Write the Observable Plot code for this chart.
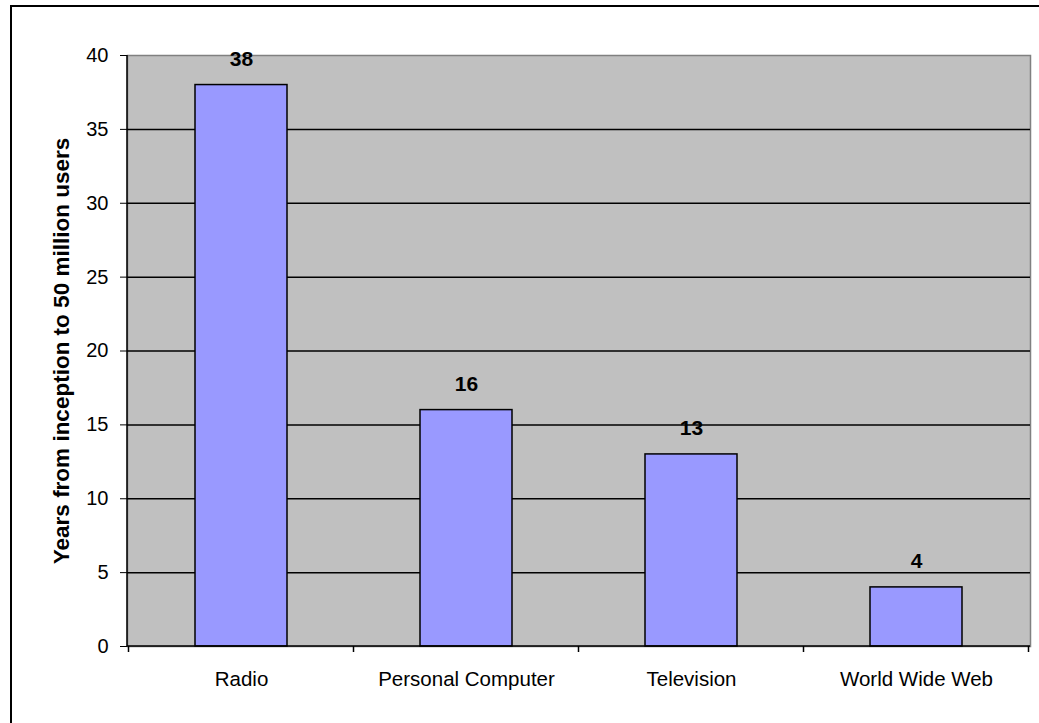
<!DOCTYPE html>
<html>
<head>
<meta charset="utf-8">
<script src="https://cdn.jsdelivr.net/npm/d3@7"></script>
<script src="https://cdn.jsdelivr.net/npm/@observablehq/plot@0.6"></script>
<style>
  html, body { margin: 0; padding: 0; background: #fff; }
  #chart svg { display: block; }
</style>
</head>
<body>
<div id="chart"></div>
<script>
// Years each technology needed to reach 50 million users
const categories = ["Radio", "Personal Computer", "Television", "World Wide Web"];
const years = [38, 16, 13, 4];
const yTicks = [0, 5, 10, 15, 20, 25, 30, 35, 40];
const yLabel = "Years from inception to 50 million users";

const data = categories.map((c, i) => ({technology: c, years: years[i]}));
const gridValues = yTicks.filter((v) => v > 0 && v < 40);

const FONT = "'Liberation Sans', Arial, Helvetica, sans-serif";

// Thin black border framing the whole chart (continues past the right/bottom edge)
function outerBorder(index, scales, values, dims) {
  return d3.create("svg:rect")
    .attr("x", 11).attr("y", 6)
    .attr("width", dims.width + 40).attr("height", dims.height + 40)
    .attr("fill", "none").attr("stroke", "#000").attr("stroke-width", 2)
    .node();
}

// Black axis lines plus category-boundary ticks under the x axis
function axisLines(index, scales, values, dims) {
  const g = d3.create("svg:g").attr("stroke", "#000").attr("stroke-width", 1.5);
  const x = scales.x;
  const left = dims.marginLeft, right = dims.width - dims.marginRight;
  const top = dims.marginTop, bottom = dims.height - dims.marginBottom;
  g.append("line").attr("x1", left).attr("x2", left).attr("y1", top).attr("y2", bottom);
  g.append("line").attr("x1", left).attr("x2", right).attr("y1", bottom).attr("y2", bottom);
  const gap = (x.step() - x.bandwidth()) / 2;
  const bounds = categories.map((c) => x(c) - gap).concat([x(categories[categories.length - 1]) + x.bandwidth() + gap]);
  for (const b of bounds) {
    g.append("line").attr("x1", b).attr("x2", b).attr("y1", bottom).attr("y2", bottom + 6);
  }
  return g.node();
}

const chart = Plot.plot({
  width: 1039,
  height: 723,
  marginTop: 55,
  marginRight: 9,
  marginBottom: 77,
  marginLeft: 127,
  style: {fontFamily: FONT, background: "#fff", color: "#000"},
  x: {domain: categories, paddingInner: 0.59, paddingOuter: 0.295, label: null},
  y: {domain: [0, 40], label: null},
  marks: [
    outerBorder,
    Plot.frame({fill: "#c0c0c0", stroke: "#808080", strokeWidth: 1.5}),
    Plot.ruleY(gridValues, {stroke: "#000", strokeWidth: 1.5}),
    Plot.barY(data, {x: "technology", y: "years", fill: "#9999ff", stroke: "#000", strokeWidth: 1.5}),
    axisLines,
    Plot.axisY({ticks: yTicks, tickSize: 7, tickPadding: 12, fontSize: 20, label: null}),
    Plot.axisX({tickSize: 0, tickPadding: 25, fontSize: 20.5, label: null}),
    Plot.text(data, {x: "technology", y: "years", text: (d) => String(d.years), lineAnchor: "bottom", dy: -19, fontSize: 21, fontWeight: "bold"}),
    Plot.text([yLabel], {frameAnchor: "left", textAnchor: "middle", rotate: -90, dx: -66, fontSize: 22.5, fontWeight: "bold"})
  ]
});

document.getElementById("chart").appendChild(chart);
</script>
</body>
</html>
